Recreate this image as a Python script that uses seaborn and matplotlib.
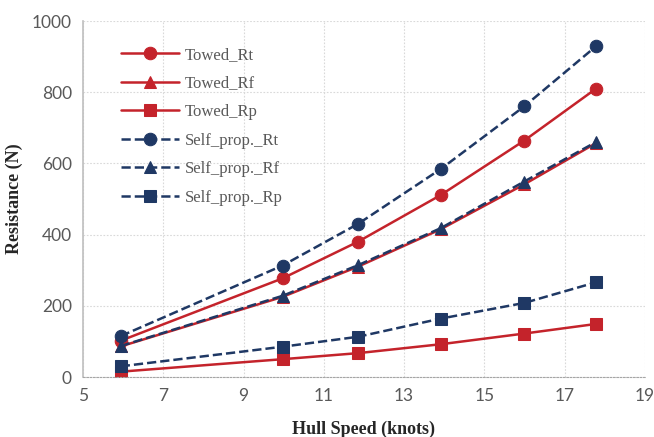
import pandas as pd
import numpy as np
import matplotlib
matplotlib.use("Agg")
import matplotlib.pyplot as plt
import seaborn as sns

# hull speed (knots)
speed = [5.94, 9.97, 11.85, 13.91, 15.99, 17.78]

# resistance (N)
towed_rt = [102, 277, 380, 511, 664, 810]
towed_rf = [86, 225, 310, 415, 541, 657]
towed_rp = [15, 50, 67, 92, 122, 149]
self_rt = [115, 313, 430, 584, 760, 929]
self_rf = [87, 228, 314, 418, 549, 660]
self_rp = [30, 85, 113, 164, 208, 266]

series = [
    ("Towed_Rt", towed_rt, "o", "-"),
    ("Towed_Rf", towed_rf, "^", "-"),
    ("Towed_Rp", towed_rp, "s", "-"),
    ("Self_prop._Rt", self_rt, "o", "--"),
    ("Self_prop._Rf", self_rf, "^", "--"),
    ("Self_prop._Rp", self_rp, "s", "--"),
]

red = "#C4232B"
navy = "#1F3864"

sns.set_style("white")
fig = plt.figure(figsize=(6.54, 4.37), dpi=100)
ax = fig.add_axes([83 / 654, 1 - 377 / 437, (645 - 83) / 654, (377 - 21) / 437])

for name, vals, mk, ls in series:
    df = pd.DataFrame({"speed": speed, "res": vals})
    col = red if ls == "-" else navy
    sns.lineplot(data=df, x="speed", y="res", ax=ax, color=col, marker=mk,
                 linestyle=ls, linewidth=1.8, markersize=9,
                 markeredgecolor=col, label=name, dashes=(3.2, 2.4) if ls == "--" else None)

ax.set_xlim(5, 19)
ax.set_ylim(0, 1000)
ax.set_xticks(range(5, 20, 2))
ax.set_yticks(range(0, 1001, 200))
ax.grid(True, color="#d9d9d9", linestyle=(0, (1.5, 1.5)), linewidth=0.8)
for s in ["top", "right"]:
    ax.spines[s].set_visible(False)
ax.spines["left"].set_color("#bfbfbf")
ax.spines["left"].set_linewidth(1.2)
ax.spines["bottom"].set_color("#a6a6a6")
ax.spines["bottom"].set_linestyle((0, (1.5, 1.5)))
ax.tick_params(axis="both", length=0, labelsize=12.5, labelcolor="#595959", pad=8)
for lab in ax.get_xticklabels() + ax.get_yticklabels():
    lab.set_family("Lato")

ax.set_xlabel("Hull Speed (knots)", family="Liberation Serif", fontweight="bold",
              fontsize=13, labelpad=12)
ax.set_ylabel("Resistance (N)", family="Liberation Serif", fontweight="bold",
              fontsize=13)
ax.yaxis.set_label_coords(-0.106, 0.5)

leg = ax.legend(loc="upper left", bbox_to_anchor=(0.041, 0.969), frameon=False,
                handlelength=3.5, handletextpad=0.3, labelspacing=0.75,
                prop={"family": "Liberation Serif", "size": 12})
for t in leg.get_texts():
    t.set_color("#595959")

fig.savefig("out.png", dpi=100)
